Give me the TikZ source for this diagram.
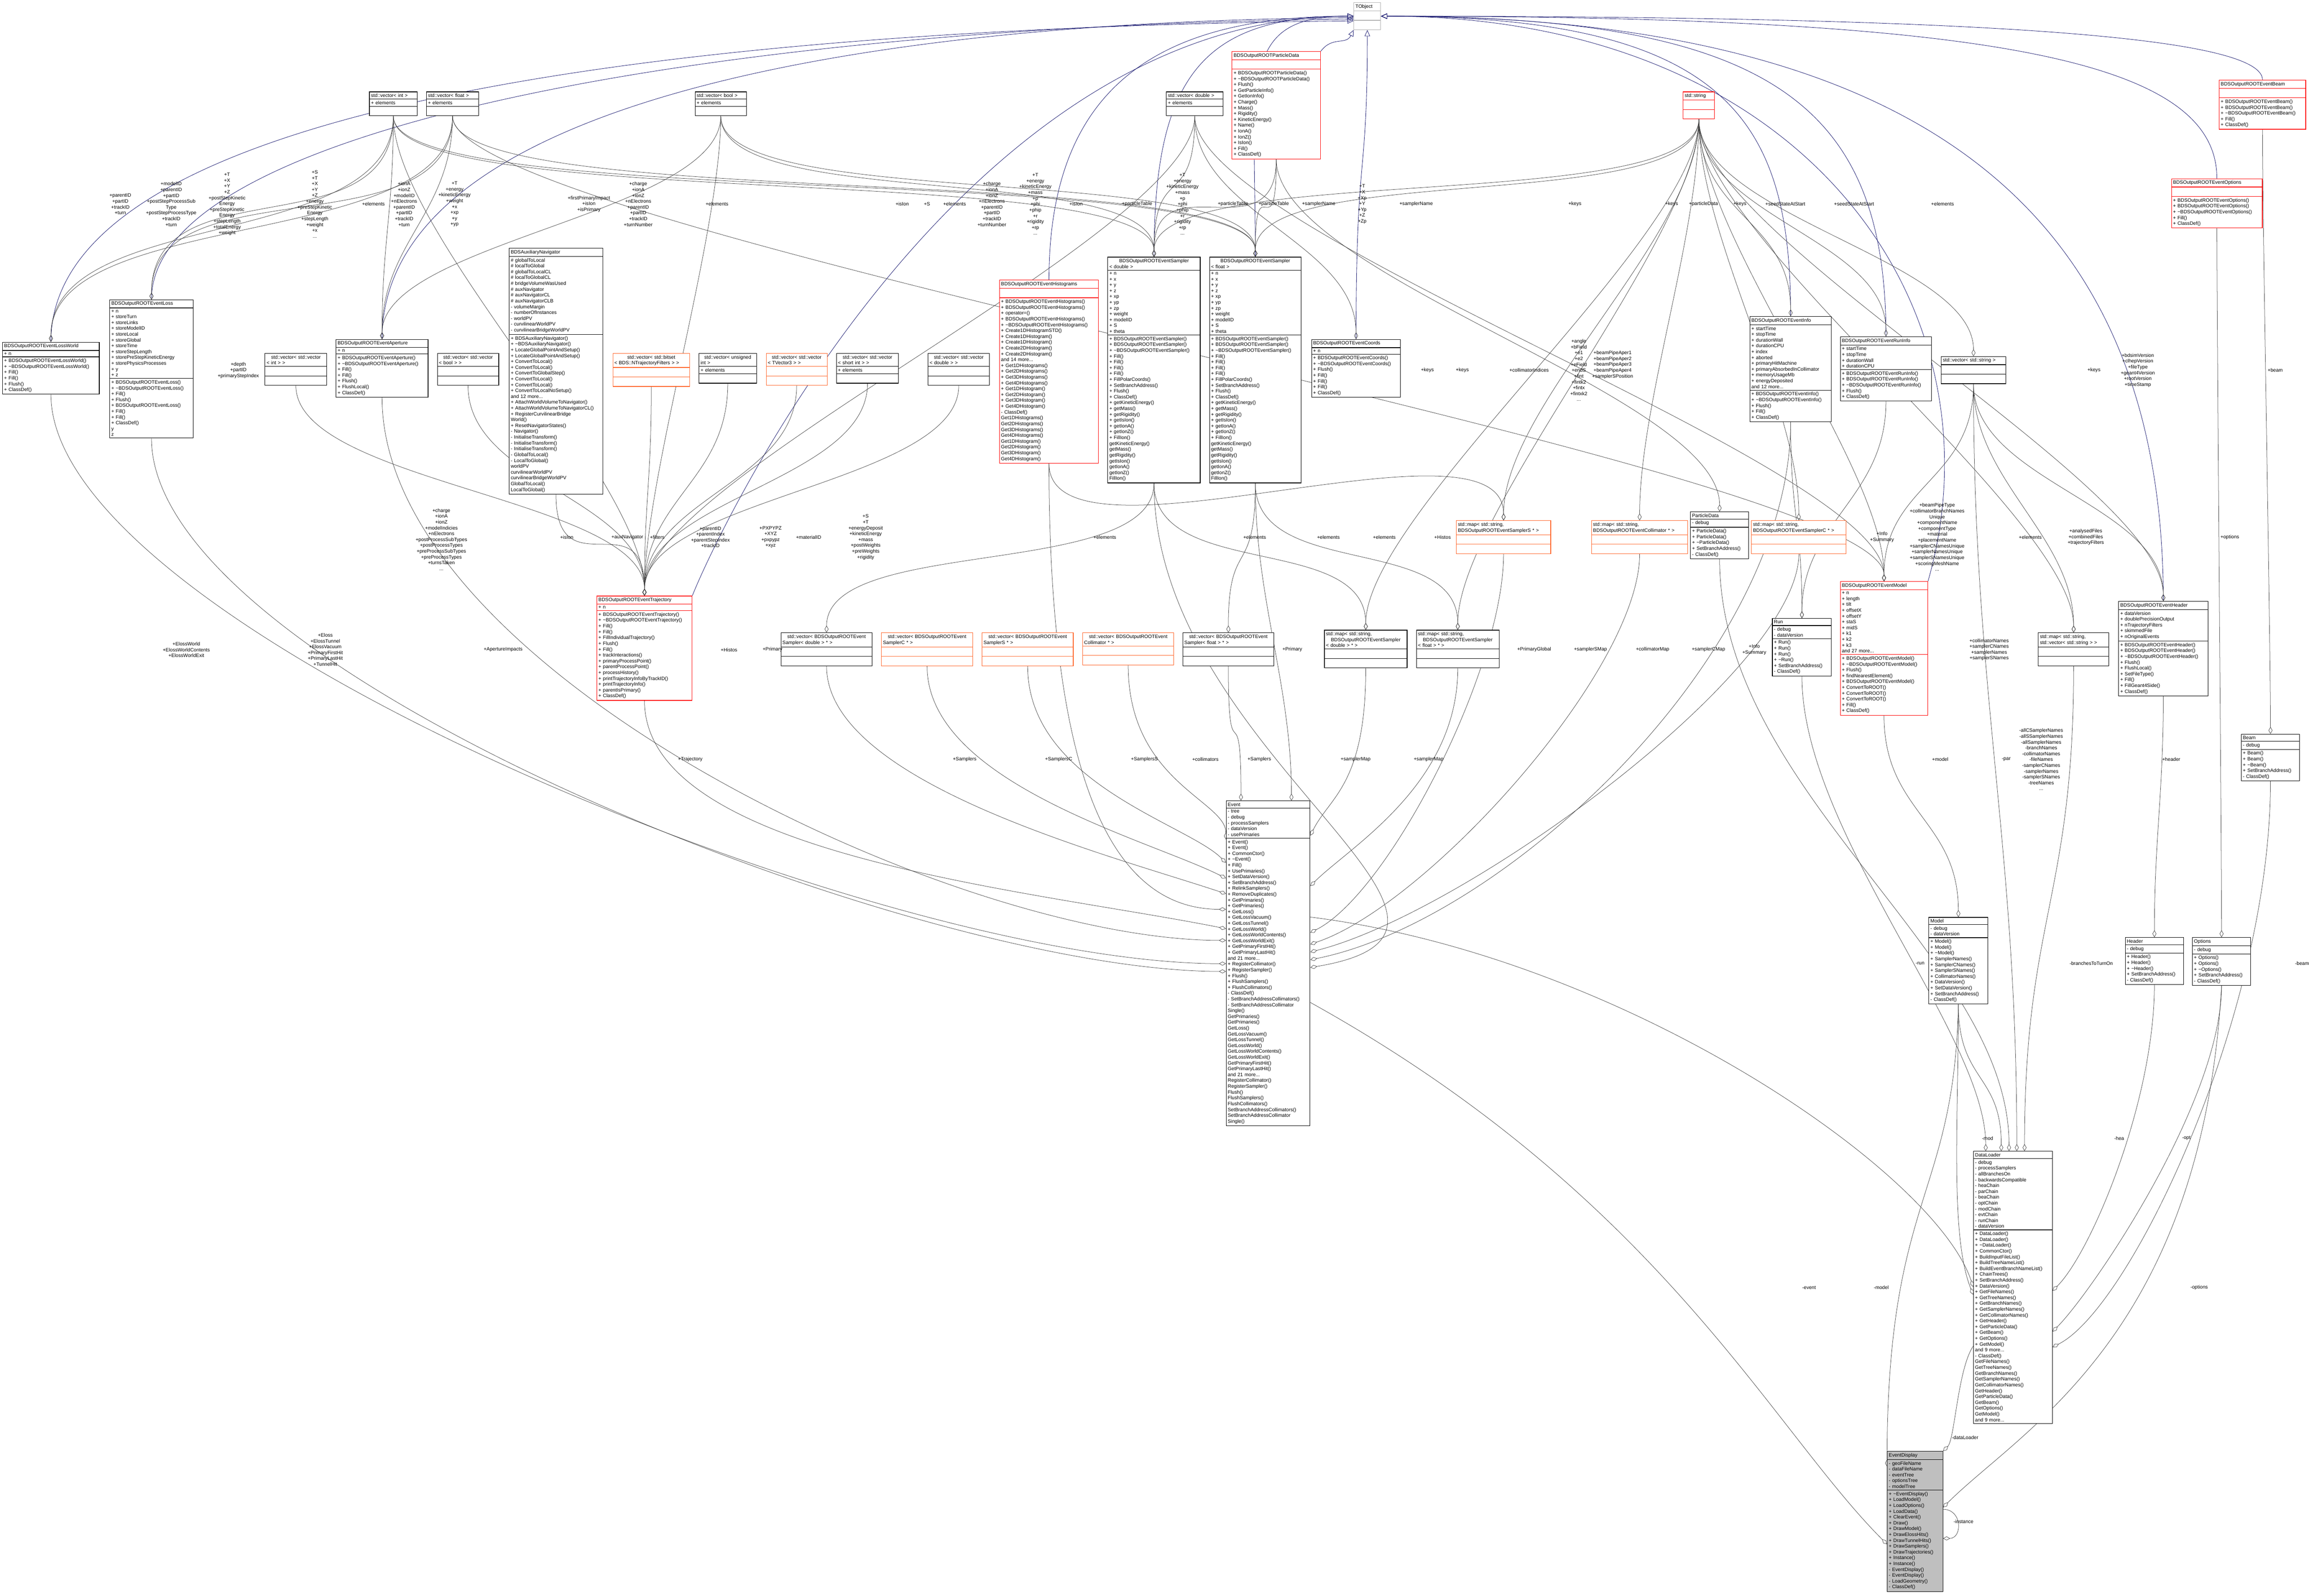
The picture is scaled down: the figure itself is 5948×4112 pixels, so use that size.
\documentclass[tikz,border=0pt]{standalone}
\usepackage{fontspec}
\setmainfont{Liberation Sans}
\usetikzlibrary{shapes.multipart,arrows.meta,calc,backgrounds}
\definecolor{inhblue}{RGB}{25,25,112}
\definecolor{orng}{RGB}{255,100,40}
\newcommand\tl{\textasciitilde}
\tikzset{
 every node/.style={font=\fontsize{6.3}{7.5}\selectfont},
 cls/.style={rectangle split,rectangle split parts=3,draw=black,line width=0.7pt,inner xsep=2pt,inner ysep=2pt,align=left,anchor=north west,fill=white},
 redc/.style={draw=red},
 orc/.style={draw=orng},
 lab/.style={align=center,inner sep=0pt},
 agg/.style={draw=black!75,line width=0.45pt,-{Diamond[open,length=9pt,width=5pt]}},
 inh/.style={draw=inhblue,line width=0.5pt,-{Triangle[open,length=8pt,width=7pt]}}
}
\newcommand\ag[3][250]{\draw[agg] (#2.south) .. controls +(0,#1) and +(0,-#1) .. (#3.north);}
\begin{document}
\begin{tikzpicture}[x=0.5pt,y=-0.5pt]
\useasboundingbox (0,0) rectangle (5948,4112);
% ---------- class boxes ----------
\node[cls,draw=black!30,text width=30.5pt] (tobj) at (3487,6) {\centering TObject\nodepart{two}\strut\nodepart{three}\strut};
\node[cls,redc,text width=110pt] (pdR) at (3173,132) {\centering BDSOutputROOTParticleData\nodepart{two}\strut\nodepart{three}+ BDSOutputROOTParticleData()\\+ \tl BDSOutputROOTParticleData()\\+ Flush()\\+ GetParticleInfo()\\+ GetIonInfo()\\+ Charge()\\+ Mass()\\+ Rigidity()\\+ KineticEnergy()\\+ Name()\\+ IonA()\\+ IonZ()\\+ IsIon()\\+ Fill()\\+ ClassDef()};
\node[cls,text width=57.5pt] (vint) at (951,236) {\centering std::vector< int >\nodepart{two}+ elements\nodepart{three}\strut};
\node[cls,text width=63pt] (vfloat) at (1098,236) {\centering std::vector< float >\nodepart{two}+ elements\nodepart{three}\strut};
\node[cls,text width=62pt] (vbool) at (1790,236) {\centering std::vector< bool >\nodepart{two}+ elements\nodepart{three}\strut};
\node[cls,text width=69pt] (vdouble) at (3004,236) {\centering std::vector< double >\nodepart{two}+ elements\nodepart{three}\strut};
\node[cls,redc,text width=36.5pt] (str) at (4335,236) {\centering std::string\nodepart{two}\strut\nodepart{three}\strut};
\node[cls,redc,text width=107.5pt] (beamR) at (5716,206) {\centering BDSOutputROOTEventBeam\nodepart{two}\strut\nodepart{three}+ BDSOutputROOTEventBeam()\\+ BDSOutputROOTEventBeam()\\+ \tl BDSOutputROOTEventBeam()\\+ Fill()\\+ ClassDef()};
\node[cls,redc,text width=113pt] (optR) at (5593,460) {\centering BDSOutputROOTEventOptions\nodepart{two}\strut\nodepart{three}+ BDSOutputROOTEventOptions()\\+ BDSOutputROOTEventOptions()\\+ \tl BDSOutputROOTEventOptions()\\+ Fill()\\+ ClassDef()};
\node[cls,text width=120.5pt] (lw) at (6,881) {\centering BDSOutputROOTEventLossWorld\nodepart{two}+ n\nodepart{three}+ BDSOutputROOTEventLossWorld()\\+ \tl BDSOutputROOTEventLossWorld()\\+ Fill()\\+ Fill()\\+ Flush()\\+ ClassDef()};
\node[cls,text width=103.5pt] (loss) at (282,772) {\centering BDSOutputROOTEventLoss\nodepart{two}+ n\\+ storeTurn\\+ storeLinks\\+ storeModelID\\+ storeLocal\\+ storeGlobal\\+ storeTime\\+ storeStepLength\\+ storePreStepKineticEnergy\\+ storePhysicsProcesses\\+ y\\+ z\nodepart{three}+ BDSOutputROOTEventLoss()\\+ \tl BDSOutputROOTEventLoss()\\+ Fill()\\+ Flush()\\+ BDSOutputROOTEventLoss()\\+ Fill()\\+ Fill()\\+ ClassDef()\\* y\\* z};
\node[cls,text width=75.5pt] (vvint) at (682,910) {\centering std::vector< std::vector\\< int > >\nodepart{two}\strut\nodepart{three}\strut};
\node[cls,text width=114.5pt] (ap) at (865,874) {\centering BDSOutputROOTEventAperture\nodepart{two}+ n\nodepart{three}+ BDSOutputROOTEventAperture()\\+ \tl BDSOutputROOTEventAperture()\\+ Fill()\\+ Fill()\\+ Flush()\\+ FlushLocal()\\+ ClassDef()};
\node[cls,text width=75pt] (vvbool) at (1126,910) {\centering std::vector< std::vector\\< bool > >\nodepart{two}\strut\nodepart{three}\strut};
\node[cls,text width=116.5pt] (aux) at (1311,639) {\centering BDSAuxiliaryNavigator\nodepart{two}\# globalToLocal\\\# localToGlobal\\\# globalToLocalCL\\\# localToGlobalCL\\\# bridgeVolumeWasUsed\\\# auxNavigator\\\# auxNavigatorCL\\\# auxNavigatorCLB\\- volumeMargin\\- numberOfInstances\\- worldPV\\- curvilinearWorldPV\\- curvilinearBridgeWorldPV\nodepart{three}+ BDSAuxiliaryNavigator()\\+ \tl BDSAuxiliaryNavigator()\\+ LocateGlobalPointAndSetup()\\+ LocateGlobalPointAndSetup()\\+ ConvertToLocal()\\+ ConvertToLocal()\\+ ConvertToGlobalStep()\\+ ConvertToLocal()\\+ ConvertToLocal()\\+ ConvertToLocalNoSetup()\\and 12 more...\\+ AttachWorldVolumeToNavigator()\\+ AttachWorldVolumeToNavigatorCL()\\+ RegisterCurvilinearBridge\\World()\\+ ResetNavigatorStates()\\- Navigator()\\- InitialiseTransform()\\- InitialiseTransform()\\- InitialiseTransform()\\- GlobalToLocal()\\- LocalToGlobal()\\* worldPV\\* curvilinearWorldPV\\* curvilinearBridgeWorldPV\\* GlobalToLocal()\\* LocalToGlobal()};
\node[cls,orc,text width=95pt] (bits) at (1578,910) {\centering std::vector< std::bitset\\< BDS::NTrajectoryFilters > >\nodepart{two}\strut\nodepart{three}\strut};
\node[cls,text width=70pt] (vuint) at (1800,910) {\centering std::vector< unsigned\\ int >\nodepart{two}+ elements\nodepart{three}\strut};
\node[cls,orc,text width=74.5pt] (vvtv) at (1973,910) {\centering std::vector< std::vector\\< TVector3 > >\nodepart{two}\strut\nodepart{three}\strut};
\node[cls,text width=76pt] (vvshort) at (2154,910) {\centering std::vector< std::vector\\< short int > >\nodepart{two}+ elements\nodepart{three}\strut};
\node[cls,text width=75pt] (vvdouble) at (2390,910) {\centering std::vector< std::vector\\< double > >\nodepart{two}\strut\nodepart{three}\strut};
\node[cls,redc,text width=123.5pt] (hist) at (2574,721) {\centering BDSOutputROOTEventHistograms\nodepart{two}\strut\nodepart{three}+ BDSOutputROOTEventHistograms()\\+ BDSOutputROOTEventHistograms()\\+ operator=()\\+ BDSOutputROOTEventHistograms()\\+ \tl BDSOutputROOTEventHistograms()\\+ Create1DHistogramSTD()\\+ Create1DHistogram()\\+ Create1DHistogram()\\+ Create2DHistogram()\\+ Create2DHistogram()\\and 14 more...\\+ Get1DHistograms()\\+ Get2DHistograms()\\+ Get3DHistograms()\\+ Get4DHistograms()\\+ Get1DHistogram()\\+ Get2DHistogram()\\+ Get3DHistogram()\\+ Get4DHistogram()\\- ClassDef()\\* Get1DHistograms()\\* Get2DHistograms()\\* Get3DHistograms()\\* Get4DHistograms()\\* Get1DHistogram()\\* Get2DHistogram()\\* Get3DHistogram()\\* Get4DHistogram()};
\node[cls,text width=115pt] (sD) at (2853,662) {\centering BDSOutputROOTEventSampler\\< double >\nodepart{two}+ n\\+ x\\+ y\\+ z\\+ xp\\+ yp\\+ zp\\+ weight\\+ modelID\\+ S\\+ theta\nodepart{three}+ BDSOutputROOTEventSampler()\\+ BDSOutputROOTEventSampler()\\+ \tl BDSOutputROOTEventSampler()\\+ Fill()\\+ Fill()\\+ Fill()\\+ Fill()\\+ FillPolarCoords()\\+ SetBranchAddress()\\+ Flush()\\+ ClassDef()\\+ getKineticEnergy()\\+ getMass()\\+ getRigidity()\\+ getIsIon()\\+ getIonA()\\+ getIonZ()\\+ FillIon()\\* getKineticEnergy()\\* getMass()\\* getRigidity()\\* getIsIon()\\* getIonA()\\* getIonZ()\\* FillIon()};
\node[cls,text width=114pt] (sF) at (3115,662) {\centering BDSOutputROOTEventSampler\\< float >\nodepart{two}+ n\\+ x\\+ y\\+ z\\+ xp\\+ yp\\+ zp\\+ weight\\+ modelID\\+ S\\+ theta\nodepart{three}+ BDSOutputROOTEventSampler()\\+ BDSOutputROOTEventSampler()\\+ \tl BDSOutputROOTEventSampler()\\+ Fill()\\+ Fill()\\+ Fill()\\+ Fill()\\+ FillPolarCoords()\\+ SetBranchAddress()\\+ Flush()\\+ ClassDef()\\+ getKineticEnergy()\\+ getMass()\\+ getRigidity()\\+ getIsIon()\\+ getIonA()\\+ getIonZ()\\+ FillIon()\\* getKineticEnergy()\\* getMass()\\* getRigidity()\\* getIsIon()\\* getIonA()\\* getIonZ()\\* FillIon()};
\node[cls,text width=110.5pt] (coords) at (3378,874) {\centering BDSOutputROOTEventCoords\nodepart{two}+ n\nodepart{three}+ BDSOutputROOTEventCoords()\\+ \tl BDSOutputROOTEventCoords()\\+ Flush()\\+ Fill()\\+ Fill()\\+ Fill()\\+ ClassDef()};
\node[cls,text width=101pt] (info) at (4507,815) {\centering BDSOutputROOTEventInfo\nodepart{two}+ startTime\\+ stopTime\\+ durationWall\\+ durationCPU\\+ index\\+ aborted\\+ primaryHitMachine\\+ primaryAbsorbedInCollimator\\+ memoryUsageMb\\+ energyDeposited\\and 12 more...\nodepart{three}+ BDSOutputROOTEventInfo()\\+ \tl BDSOutputROOTEventInfo()\\+ Flush()\\+ Fill()\\+ ClassDef()};
\node[cls,text width=113.5pt] (runinfo) at (4740,867) {\centering BDSOutputROOTEventRunInfo\nodepart{two}+ startTime\\+ stopTime\\+ durationWall\\+ durationCPU\nodepart{three}+ BDSOutputROOTEventRunInfo()\\+ BDSOutputROOTEventRunInfo()\\+ \tl BDSOutputROOTEventRunInfo()\\+ Flush()\\+ ClassDef()};
\node[cls,text width=79pt] (vstr) at (5000,918) {\centering std::vector< std::string >\nodepart{two}\strut\nodepart{three}\strut};
\node[cls,redc,text width=118.5pt] (traj) at (1537,1535) {\centering BDSOutputROOTEventTrajectory\nodepart{two}+ n\nodepart{three}+ BDSOutputROOTEventTrajectory()\\+ \tl BDSOutputROOTEventTrajectory()\\+ Fill()\\+ Fill()\\+ FillIndividualTrajectory()\\+ Flush()\\+ Fill()\\+ trackInteractions()\\+ primaryProcessPoint()\\+ parentProcessPoint()\\+ processHistory()\\+ printTrajectoryInfoByTrackID()\\+ printTrajectoryInfo()\\+ parentIsPrimary()\\+ ClassDef()};
\node[cls,orc,text width=120pt] (mapColl) at (4099,1341) {std::map< std::string,\\ BDSOutputROOTEventCollimator * >\nodepart{two}\strut\nodepart{three}\strut};
\node[cls,text width=71pt] (pdata) at (4354,1318) {\centering ParticleData\nodepart{two}- debug\nodepart{three}+ ParticleData()\\+ ParticleData()\\+ \tl ParticleData()\\+ SetBranchAddress()\\- ClassDef()};
\node[cls,orc,text width=118pt] (mapSC) at (4511,1341) {std::map< std::string,\\ BDSOutputROOTEventSamplerC * >\nodepart{two}\strut\nodepart{three}\strut};
\node[cls,orc,text width=117.5pt] (mapSS) at (3751,1341) {std::map< std::string,\\ BDSOutputROOTEventSamplerS * >\nodepart{two}\strut\nodepart{three}\strut};
\node[cls,redc,text width=108.5pt] (modelR) at (4740,1498) {\centering BDSOutputROOTEventModel\nodepart{two}+ n\\+ length\\+ tilt\\+ offsetX\\+ offsetY\\+ staS\\+ midS\\+ k1\\+ k2\\+ k3\\and 27 more...\nodepart{three}+ BDSOutputROOTEventModel()\\+ \tl BDSOutputROOTEventModel()\\+ Flush()\\+ findNearestElement()\\+ BDSOutputROOTEventModel()\\+ ConvertToROOT()\\+ ConvertToROOT()\\+ ConvertToROOT()\\+ Fill()\\+ ClassDef()};
\node[cls,text width=72pt] (run) at (4565,1593) {\centering Run\nodepart{two}- debug\\- dataVersion\nodepart{three}+ Run()\\+ Run()\\+ Run()\\+ \tl Run()\\+ SetBranchAddress()\\- ClassDef()};
\node[cls,text width=87pt] (mapvs) at (5250,1630) {std::map< std::string,\\ std::vector< std::string > >\nodepart{two}\strut\nodepart{three}\strut};
\node[cls,text width=111pt] (headerR) at (5457,1549) {\centering BDSOutputROOTEventHeader\nodepart{two}+ dataVersion\\+ doublePrecisionOutput\\+ nTrajectoryFilters\\+ skimmedFile\\+ nOriginalEvents\nodepart{three}+ BDSOutputROOTEventHeader()\\+ BDSOutputROOTEventHeader()\\+ \tl BDSOutputROOTEventHeader()\\+ Flush()\\+ FlushLocal()\\+ SetFileType()\\+ Fill()\\+ FillGeant4Side()\\+ ClassDef()};
\node[cls,text width=71pt] (beam) at (5773,1891) {\centering Beam\nodepart{two}- debug\nodepart{three}+ Beam()\\+ Beam()\\+ \tl Beam()\\+ SetBranchAddress()\\- ClassDef()};
\node[cls,text width=113.5pt] (vecSD) at (2011,1630) {\centering std::vector< BDSOutputROOTEvent\\Sampler< double > * >\nodepart{two}\strut\nodepart{three}\strut};
\node[cls,orc,text width=113.5pt] (vecSC) at (2270,1630) {\centering std::vector< BDSOutputROOTEvent\\SamplerC * >\nodepart{two}\strut\nodepart{three}\strut};
\node[cls,orc,text width=113.5pt] (vecSS) at (2529,1630) {\centering std::vector< BDSOutputROOTEvent\\SamplerS * >\nodepart{two}\strut\nodepart{three}\strut};
\node[cls,orc,text width=113.5pt] (vecColl) at (2788,1630) {\centering std::vector< BDSOutputROOTEvent\\Collimator * >\nodepart{two}\strut\nodepart{three}\strut};
\node[cls,text width=113.5pt] (vecSF) at (3046,1630) {\centering std::vector< BDSOutputROOTEvent\\Sampler< float > * >\nodepart{two}\strut\nodepart{three}\strut};
\node[cls,text width=102.5pt] (mapSD) at (3411,1623) {std::map< std::string,\\ \centering BDSOutputROOTEventSampler\\< double > * >\nodepart{two}\strut\nodepart{three}\strut};
\node[cls,text width=102.5pt] (mapSF) at (3648,1623) {std::map< std::string,\\ \centering BDSOutputROOTEventSampler\\< float > * >\nodepart{two}\strut\nodepart{three}\strut};
\node[cls,text width=104pt] (event) at (3158,2063) {\centering Event\nodepart{two}- tree\\- debug\\- processSamplers\\- dataVersion\\- usePrimaries\nodepart{three}+ Event()\\+ Event()\\+ CommonCtor()\\+ \tl Event()\\+ Fill()\\+ UsePrimaries()\\+ SetDataVersion()\\+ SetBranchAddress()\\+ RelinkSamplers()\\+ RemoveDuplicates()\\+ GetPrimaries()\\+ GetPrimaries()\\+ GetLoss()\\+ GetLossVacuum()\\+ GetLossTunnel()\\+ GetLossWorld()\\+ GetLossWorldContents()\\+ GetLossWorldExit()\\+ GetPrimaryFirstHit()\\+ GetPrimaryLastHit()\\and 21 more...\\+ RegisterCollimator()\\+ RegisterSampler()\\+ Flush()\\+ FlushSamplers()\\+ FlushCollimators()\\- ClassDef()\\- SetBranchAddressCollimators()\\- SetBranchAddressCollimator\\Single()\\* GetPrimaries()\\* GetPrimaries()\\* GetLoss()\\* GetLossVacuum()\\* GetLossTunnel()\\* GetLossWorld()\\* GetLossWorldContents()\\* GetLossWorldExit()\\* GetPrimaryFirstHit()\\* GetPrimaryLastHit()\\and 21 more...\\* RegisterCollimator()\\* RegisterSampler()\\* Flush()\\* FlushSamplers()\\* FlushCollimators()\\* SetBranchAddressCollimators()\\* SetBranchAddressCollimator\\Single()};
\node[cls,text width=72pt] (Model) at (4968,2363) {\centering Model\nodepart{two}- debug\\- dataVersion\nodepart{three}+ Model()\\+ Model()\\+ \tl Model()\\+ SamplerNames()\\+ SamplerCNames()\\+ SamplerSNames()\\+ CollimatorNames()\\+ DataVersion()\\+ SetDataVersion()\\+ SetBranchAddress()\\- ClassDef()};
\node[cls,text width=71pt] (Header) at (5474,2415) {\centering Header\nodepart{two}- debug\nodepart{three}+ Header()\\+ Header()\\+ \tl Header()\\+ SetBranchAddress()\\- ClassDef()};
\node[cls,text width=71pt] (Options) at (5647,2415) {\centering Options\nodepart{two}- debug\nodepart{three}+ Options()\\+ Options()\\+ \tl Options()\\+ SetBranchAddress()\\- ClassDef()};
\node[cls,text width=97.5pt] (dl) at (5083,2966) {\centering DataLoader\nodepart{two}- debug\\- processSamplers\\- allBranchesOn\\- backwardsCompatible\\- heaChain\\- parChain\\- beaChain\\- optChain\\- modChain\\- evtChain\\- runChain\\- dataVersion\nodepart{three}+ DataLoader()\\+ DataLoader()\\+ \tl DataLoader()\\+ CommonCtor()\\+ BuildInputFileList()\\+ BuildTreeNameList()\\+ BuildEventBranchNameList()\\+ ChainTrees()\\+ SetBranchAddress()\\+ DataVersion()\\+ GetFileNames()\\+ GetTreeNames()\\+ GetBranchNames()\\+ GetSamplerNames()\\+ GetCollimatorNames()\\+ GetHeader()\\+ GetParticleData()\\+ GetBeam()\\+ GetOptions()\\+ GetModel()\\and 9 more...\\- ClassDef()\\* GetFileNames()\\* GetTreeNames()\\* GetBranchNames()\\* GetSamplerNames()\\* GetCollimatorNames()\\* GetHeader()\\* GetParticleData()\\* GetBeam()\\* GetOptions()\\* GetModel()\\and 9 more...};
\node[cls,fill=black!25,text width=67.5pt] (ed) at (4861,3739) {\centering EventDisplay\nodepart{two}- geoFileName\\- dataFileName\\- eventTree\\- optionsTree\\- modelTree\nodepart{three}+ \tl EventDisplay()\\+ LoadModel()\\+ LoadOptions()\\+ LoadData()\\+ ClearEvent()\\+ Draw()\\+ DrawModel()\\+ DrawElossHits()\\+ DrawTunnelHits()\\+ DrawSamplers()\\+ DrawTrajectories()\\+ Instance()\\+ Instance()\\- EventDisplay()\\- EventDisplay()\\- LoadGeometry()\\- ClassDef()};
\begin{pgfonlayer}{background}
% ---------- inheritance ----------
\draw[inh] (lw.north) .. controls +(0,-600) and +(-1800,20) .. ([yshift=-6pt]tobj.west);
\draw[inh] (loss.north) .. controls +(0,-450) and +(-1600,15) .. ([yshift=-4pt]tobj.west);
\draw[inh] (ap.north) .. controls +(0,-600) and +(-1300,10) .. ([yshift=-2pt]tobj.west);
\draw[inh] (traj.north east) .. controls +(80,-200) and +(-1000,0) .. (tobj.west);
\draw[inh] (hist.north) .. controls +(0,-500) and +(-500,0) .. (tobj.west);
\draw[inh] (sD.north) .. controls +(0,-450) and +(-400,0) .. (tobj.west);
\draw[inh] (sF.north) .. controls +(0,-450) and +(-300,0) .. (tobj.west);
\draw[inh] (pdR.north east) .. controls +(30,-40) and +(-20,40) .. (tobj.south west);
\draw[inh] (coords.north) .. controls +(0,-500) and +(0,400) .. (tobj.south);
\draw[inh] (info.north) .. controls +(0,-500) and +(900,0) .. (tobj.east);
\draw[inh] (runinfo.north) .. controls +(0,-600) and +(1000,0) .. (tobj.east);
\draw[inh] (modelR.north east) .. controls +(200,-700) and +(1100,0) .. (tobj.east);
\draw[inh] (headerR.north) .. controls +(0,-1000) and +(1400,0) .. (tobj.east);
\draw[inh] (optR.north) .. controls +(0,-300) and +(1600,0) .. (tobj.east);
\draw[inh] (beamR.north) .. controls +(0,-100) and +(1700,0) .. (tobj.east);
% ---------- aggregation ----------
\ag[350]{vint}{lw} \ag[350]{vint}{loss} \ag{vint}{ap} \ag{vint}{sD} \ag{vint}{sF} \ag[300]{vint}{traj}
\ag[350]{vfloat}{lw} \ag[350]{vfloat}{loss} \ag{vfloat}{ap} \ag{vfloat}{sF} \ag[300]{vfloat}{modelR}
\ag{vbool}{ap} \ag{vbool}{sD} \ag{vbool}{sF} \ag[300]{vbool}{traj}
\ag{vdouble}{sD} \ag{vdouble}{coords} \ag[300]{vdouble}{traj} \ag[300]{vdouble}{modelR}
\ag{pdR}{sD} \ag{pdR}{sF} \ag[300]{pdR}{pdata}
\ag{str}{sD} \ag{str}{sF} \ag{str}{info} \ag{str}{runinfo} \ag{str}{vstr}
\ag[300]{str}{mapSD} \ag[300]{str}{mapSF} \ag[300]{str}{mapSS} \ag[300]{str}{mapColl} \ag[300]{str}{mapSC} \ag[300]{str}{mapvs} \ag[300]{str}{modelR} \ag[300]{str}{headerR}
\ag{vvint}{traj} \ag{vvbool}{traj} \ag{bits}{traj} \ag{aux}{traj} \ag{vuint}{traj} \ag{vvtv}{traj} \ag{vvshort}{traj} \ag{vvdouble}{traj}
\ag{sD}{vecSD} \ag{sF}{vecSF} \ag{sD}{mapSD} \ag{sF}{mapSF} \ag{runinfo}{run} \ag{info}{run}
\ag{vstr}{mapvs} \ag{vstr}{headerR} \ag{vstr}{modelR}
\ag{modelR}{Model} \ag{headerR}{Header} \ag{optR}{Options} \ag{beamR}{beam}
\ag[300]{hist}{mapSS}
\draw[agg] (lw.south) .. controls +(0,600) and +(-900,0) .. ($(event.north west)+(0,420)$);
\draw[agg] (loss.south) .. controls +(0,600) and +(-800,0) .. ($(event.north west)+(0,440)$);
\draw[agg] (ap.south) .. controls +(0,700) and +(-700,0) .. ($(event.north west)+(0,360)$);
\draw[agg] (traj.south) .. controls +(0,400) and +(-500,-100) .. ($(event.north west)+(0,330)$);
\draw[agg] (hist.south) .. controls +(0,800) and +(-300,0) .. ($(event.north west)+(0,280)$);
\draw[agg] (vecSD.south) .. controls +(0,300) and +(-300,-100) .. ($(event.north west)+(0,240)$);
\draw[agg] (vecSC.south) .. controls +(0,300) and +(-200,-100) .. ($(event.north west)+(0,200)$);
\draw[agg] (vecSS.south) .. controls +(0,300) and +(-100,-100) .. ($(event.north west)+(0,160)$);
\draw[agg] (vecColl.south) .. controls +(0,300) and +(0,-100) .. ($(event.north west)+(0,100)$);
\draw[agg] (vecSF.south) .. controls +(0,300) and +(0,-300) .. ($(event.north)+(-70,0)$);
\draw[agg] (sF.south) .. controls +(0,300) and +(0,-300) .. ($(event.north)+(60,0)$);
\draw[agg] (mapSD.south) .. controls +(0,300) and +(50,-100) .. ($(event.north east)+(0,90)$);
\draw[agg] (mapSF.south) .. controls +(0,300) and +(100,-100) .. ($(event.north east)+(0,220)$);
\draw[agg] (mapSS.south) .. controls +(0,300) and +(200,-100) .. ($(event.north east)+(0,340)$);
\draw[agg] (mapColl.south) .. controls +(0,300) and +(300,-100) .. ($(event.north east)+(0,370)$);
\draw[agg] (mapSC.south) .. controls +(0,300) and +(400,-100) .. ($(event.north east)+(0,390)$);
\draw[agg] (info.south) .. controls +(0,600) and +(500,-100) .. ($(event.north east)+(0,410)$);
\draw[agg] (sD.south) .. controls +(0,700) and +(600,-100) .. ($(event.north east)+(0,430)$);
\draw[agg] (run.south) .. controls +(0,400) and +(0,-300) .. ($(dl.north)+(-70,0)$);
\draw[agg] (Model.south) .. controls +(0,200) and +(0,-200) .. ($(dl.north)+(-30,0)$);
\draw[agg] (pdata.south) .. controls +(0,600) and +(0,-500) .. ($(dl.north)+(-10,0)$);
\draw[agg] (vstr.south) .. controls +(0,800) and +(0,-800) .. ($(dl.north)+(10,0)$);
\draw[agg] (mapvs.south) .. controls +(0,600) and +(0,-600) .. ($(dl.north)+(30,0)$);
\draw[agg] (Header.south) .. controls +(0,300) and +(100,-100) .. ($(dl.north east)+(0,360)$);
\draw[agg] (Options.south) .. controls +(0,300) and +(100,-100) .. ($(dl.north east)+(0,465)$);
\draw[agg] (beam.south) .. controls +(0,600) and +(200,-100) .. ($(dl.north east)+(0,505)$);
\draw[agg] ($(event.north east)+(0,300)$) .. controls +(800,100) and +(-100,-300) .. ($(dl.north west)+(0,350)$);
\draw[agg] ($(event.north east)+(0,520)$) .. controls +(900,500) and +(-300,-300) .. ($(ed.north west)+(0,240)$);
\draw[agg] (Model.south) .. controls +(0,300) and +(-60,-150) .. ($(dl.north west)+(0,370)$);
\draw[agg] (Model.south) .. controls +(-10,500) and +(0,-700) .. ($(ed.north west)+(0,40)$);
\draw[agg] ($(dl.south west)+(0,-200)$) .. controls +(-40,60) and +(30,-30) .. (ed.north east);
\draw[agg] (Options.south) .. controls +(-50,900) and +(200,-200) .. ($(ed.north east)+(0,145)$);
\draw[agg] ($(ed.north east)+(0,150)$) .. controls +(50,0) and +(50,0) .. ($(ed.north east)+(0,225)$);
\end{pgfonlayer}
% ---------- labels ----------
\node[lab] (l1) at (310,526) {+parentID\\+partID\\+trackID\\+turn};
\node[lab] (l2) at (441,526) {+modelID\\+parentID\\+partID\\+postStepProcessSub\\Type\\+postStepProcessType\\+trackID\\+turn};
\node[lab] (l3) at (585,526) {+T\\+X\\+Y\\+Z\\+postStepKinetic\\Energy\\+preStepKinetic\\Energy\\+stepLength\\+totalEnergy\\+weight};
\node[lab] (l4) at (811,526) {+S\\+T\\+X\\+Y\\+Z\\+energy\\+preStepKinetic\\Energy\\+stepLength\\+weight\\+x\\...};
\node[lab] (l5) at (962,526) {+elements};
\node[lab] (l6) at (1041,526) {+ionA\\+ionZ\\+modelID\\+nElectrons\\+parentID\\+partID\\+trackID\\+turn};
\node[lab] (l7) at (1171,526) {+T\\+energy\\+kineticEnergy\\+weight\\+x\\+xp\\+y\\+yp};
\node[lab] (l8) at (1517,526) {+firstPrimaryImpact\\+isIon\\+isPrimary};
\node[lab] (l9) at (1644,526) {+charge\\+ionA\\+ionZ\\+nElectrons\\+parentID\\+partID\\+trackID\\+turnNumber};
\node[lab] (l10) at (1847,526) {+elements};
\node[lab] (l11) at (614,954) {+depth\\+partID\\+primaryStepIndex};
\node[lab] (l12) at (2324,526) {+isIon};
\node[lab] (l13) at (2388,526) {+S};
\node[lab] (l14) at (2459,526) {+elements};
\node[lab] (l15) at (2555,526) {+charge\\+ionA\\+ionZ\\+nElectrons\\+parentID\\+partID\\+trackID\\+turnNumber};
\node[lab] (l16) at (2667,526) {+T\\+energy\\+kineticEnergy\\+mass\\+p\\+phi\\+phip\\+r\\+rigidity\\+rp\\...};
\node[lab] (l17) at (2772,526) {+isIon};
\node[lab] (l18) at (2929,526) {+particleTable};
\node[lab] (l19) at (3046,526) {+T\\+energy\\+kineticEnergy\\+mass\\+p\\+phi\\+phip\\+r\\+rigidity\\+rp\\...};
\node[lab] (l20) at (3176,526) {+particleTable};
\node[lab] (l21) at (3281,526) {+particleTable};
\node[lab] (l22) at (3397,526) {+samplerName};
\node[lab] (l23) at (3509,526) {+T\\+X\\+Xp\\+Y\\+Yp\\+Z\\+Zp};
\node[lab] (l24) at (3648,526) {+samplerName};
\node[lab] (l25) at (3677,954) {+keys};
\node[lab] (l26) at (3767,954) {+keys};
\node[lab] (l27) at (3939,954) {+collimatorIndices};
\node[lab] (l28) at (4057,526) {+keys};
\node[lab] (l29) at (4306,526) {+keys};
\node[lab] (l30) at (4388,526) {+particleData};
\node[lab] (l31) at (4482,526) {+keys};
\node[lab] (l32) at (4599,526) {+seedStateAtStart};
\node[lab] (l33) at (4776,526) {+seedStateAtStart};
\node[lab] (l34) at (5004,526) {+elements};
\node[lab] (l35) at (4067,954) {+angle\\+bField\\+e1\\+e2\\+eField\\+endS\\+fint\\+fintk2\\+fintx\\+fintxk2\\...};
\node[lab] (l36) at (4154,940) {+beamPipeAper1\\+beamPipeAper2\\+beamPipeAper3\\+beamPipeAper4\\+samplerSPosition};
\node[lab] (l37) at (5394,954) {+keys};
\node[lab] (l38) at (5507,954) {+bdsimVersion\\+clhepVersion\\+fileType\\+geant4Version\\+rootVersion\\+timeStamp};
\node[lab] (l39) at (5861,954) {+beam};
\node[lab] (l40) at (1137,1390) {+charge\\+ionA\\+ionZ\\+modelIndicies\\+nElectrons\\+postProcessSubTypes\\+postProcessTypes\\+preProcessSubTypes\\+preProcessTypes\\+turnsTaken\\...};
\node[lab] (l41) at (1460,1384) {+isIon};
\node[lab] (l42) at (1616,1384) {+auxNavigator};
\node[lab] (l43) at (1693,1384) {+filters};
\node[lab] (l44) at (1830,1384) {+parentID\\+parentIndex\\+parentStepIndex\\+trackID};
\node[lab] (l45) at (1985,1384) {+PXPYPZ\\+XYZ\\+pxpypz\\+xyz};
\node[lab] (l46) at (480,1674) {+ElossWorld\\+ElossWorldContents\\+ElossWorldExit};
\node[lab] (l47) at (838,1674) {+Eloss\\+ElossTunnel\\+ElossVacuum\\+PrimaryFirstHit\\+PrimaryLastHit\\+TunnelHit};
\node[lab] (l48) at (1296,1674) {+ApertureImpacts};
\node[lab] (l49) at (1878,1674) {+Histos};
\node[lab] (l50) at (1990,1674) {+Primary};
\node[lab] (l51) at (1778,1957) {+Trajectory};
\node[lab] (l52) at (2083,1384) {+materialID};
\node[lab] (l53) at (2230,1384) {+S\\+T\\+energyDeposit\\+kineticEnergy\\+mass\\+postWeights\\+preWeights\\+rigidity};
\node[lab] (l54) at (2846,1384) {+elements};
\node[lab] (l55) at (3232,1384) {+elements};
\node[lab] (l56) at (3422,1384) {+elements};
\node[lab] (l57) at (3566,1384) {+elements};
\node[lab] (l58) at (3716,1384) {+Histos};
\node[lab] (l59) at (3329,1674) {+Primary};
\node[lab] (l60) at (3952,1674) {+PrimaryGlobal};
\node[lab] (l61) at (2485,1957) {+Samplers};
\node[lab] (l62) at (2727,1957) {+SamplersC};
\node[lab] (l63) at (2948,1957) {+SamplersS};
\node[lab] (l64) at (3105,1957) {+collimators};
\node[lab] (l65) at (3244,1957) {+Samplers};
\node[lab] (l66) at (3492,1957) {+samplerMap};
\node[lab] (l67) at (3680,1957) {+samplerMap};
\node[lab] (l68) at (4990,1384) {+beamPipeType\\+collimatorBranchNames\\Unique\\+componentName\\+componentType\\+material\\+placementName\\+samplerCNamesUnique\\+samplerNamesUnique\\+samplerSNamesUnique\\+scoringMeshName\\...};
\node[lab] (l69) at (4848,1384) {+Info\\+Summary};
\node[lab] (l70) at (5230,1384) {+elements};
\node[lab] (l71) at (5373,1384) {+analysedFiles\\+combinedFiles\\+trajectoryFilters};
\node[lab] (l72) at (5744,1384) {+options};
\node[lab] (l73) at (4097,1674) {+samplerSMap};
\node[lab] (l74) at (4257,1674) {+collimatorMap};
\node[lab] (l75) at (4401,1674) {+samplerCMap};
\node[lab] (l76) at (4519,1674) {+Info\\+Summary};
\node[lab] (l77) at (5124,1674) {+collimatorNames\\+samplerCNames\\+samplerNames\\+samplerSNames};
\node[lab] (l78) at (5258,1957) {-allCSamplerNames\\-allSSamplerNames\\-allSamplerNames\\-branchNames\\-collimatorNames\\-fileNames\\-samplerCNames\\-samplerNames\\-samplerSNames\\-treeNames\\...};
\node[lab] (l79) at (4998,1957) {+model};
\node[lab] (l80) at (5168,1957) {-par};
\node[lab] (l81) at (5593,1957) {+header};
\node[lab] (l82) at (4946,2482) {-run};
\node[lab] (l83) at (5387,2482) {-branchesToTurnOn};
\node[lab] (l84) at (5930,2482) {-beam};
\node[lab] (l85) at (5120,2933) {-mod};
\node[lab] (l86) at (5459,2933) {-hea};
\node[lab] (l87) at (5632,2933) {-opt};
\node[lab] (l88) at (4660,3318) {-event};
\node[lab] (l89) at (4846,3318) {-model};
\node[lab] (l90) at (5665,3318) {-options};
\node[lab] (l91) at (5062,3704) {-dataLoader};
\node[lab] (l92) at (5058,3920) {-instance};
\end{tikzpicture}
\end{document}
